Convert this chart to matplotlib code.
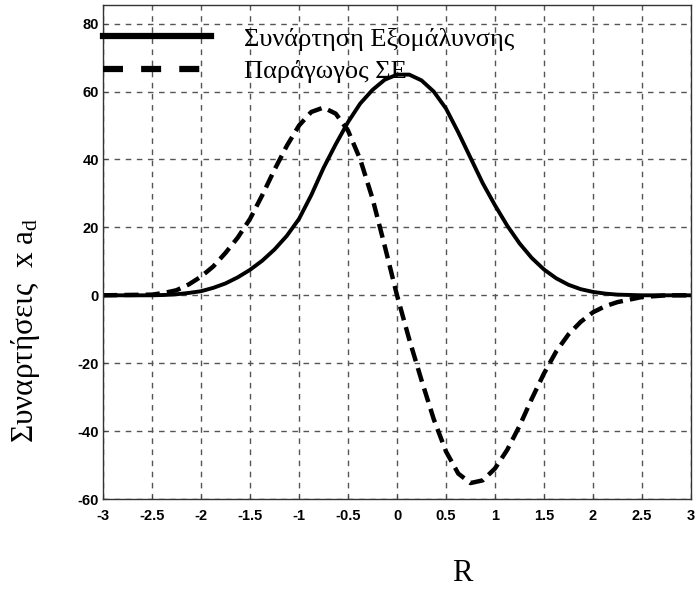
import matplotlib
matplotlib.use("Agg")
import matplotlib.pyplot as plt
from matplotlib.lines import Line2D

plt.rcParams['axes.unicode_minus'] = False
plt.rcParams['mathtext.fontset'] = 'custom'
plt.rcParams['mathtext.rm'] = 'Liberation Serif'
plt.rcParams['mathtext.it'] = 'Liberation Serif'

# smoothing function (solid)
r_smooth = [-3, -2.5, -2.375, -2.25, -2.125, -2, -1.875, -1.75, -1.625, -1.5, -1.375,
            -1.25, -1.125, -1, -0.875, -0.75, -0.625, -0.5, -0.375, -0.25, -0.125,
            0, 0.125, 0.25, 0.375, 0.5, 0.625, 0.75, 0.875, 1, 1.125, 1.25, 1.375,
            1.5, 1.625, 1.75, 1.875, 2, 2.125, 2.25, 2.5, 3]
f_smooth = [0, 0, 0.1, 0.3, 0.7, 1.2, 2.2, 3.5, 5.3, 7.5, 10.2,
            13.5, 17.5, 22.5, 29.5, 37.5, 44.5, 51, 56.5, 60.5, 63.5,
            65, 65, 63.3, 60, 55, 48, 40.5, 33, 26.5, 20.5, 15.3, 11,
            7.6, 5, 3.1, 1.8, 1, 0.5, 0.2, 0, 0]

# derivative (dashed)
r_deriv = [-3, -2.5, -2.375, -2.25, -2.125, -2, -1.875, -1.75, -1.625, -1.5, -1.375,
           -1.25, -1.125, -1, -0.875, -0.75, -0.625, -0.5, -0.375, -0.25, -0.125,
           0, 0.125, 0.25, 0.375, 0.5, 0.625, 0.75, 0.875, 1, 1.125, 1.25, 1.375,
           1.5, 1.625, 1.75, 1.875, 2, 2.125, 2.25, 2.5, 2.75, 3]
f_deriv = [0, 0.2, 0.7, 1.5, 3.2, 5.5, 8.5, 12.5, 17, 22.5, 29.5,
           37, 44, 50, 54, 55.3, 53.5, 48.5, 40, 28.5, 14.5,
           0, -13, -25, -36.5, -46, -52.5, -55.3, -54.5, -51, -45.5, -38.5, -30.5,
           -23, -16.5, -11.5, -7.8, -5, -3.2, -2, -0.5, 0, 0]

labels = ['Συνάρτηση Εξομάλυνσης', 'Παράγωγος ΣΕ']
xticks = [-3, -2.5, -2, -1.5, -1, -0.5, 0, 0.5, 1, 1.5, 2, 2.5, 3]
yticks = [-60, -40, -20, 0, 20, 40, 60, 80]

fig = plt.figure(figsize=(6.97, 5.90), dpi=100)
ax = fig.add_axes([0.1478, 0.1542, 0.8436, 0.8373])

ax.plot(r_smooth, f_smooth, color='black', lw=2.8, solid_capstyle='round')
ax.plot(r_deriv, f_deriv, color='black', lw=3.2, linestyle=(0, (3.2, 1.6)))

ax.set_xlim(-3, 3)
ax.set_ylim(-60, 85.5)
ax.set_xticks(xticks)
ax.set_yticks(yticks)
ax.set_xticklabels([f'{t:g}' for t in xticks])
ax.set_yticklabels([f'{t:g}' for t in yticks])
for lab in ax.get_xticklabels() + ax.get_yticklabels():
    lab.set_fontfamily('Liberation Sans')
    lab.set_fontweight('bold')
    lab.set_fontsize(10.5)
ax.tick_params(direction='in', length=3, width=0.8, color='#444444')
ax.tick_params(axis='x', pad=7)
ax.tick_params(axis='y', pad=3)

ax.grid(True, color='#555555', lw=1.0, linestyle=(0, (4, 4)))
for s in ax.spines.values():
    s.set_color('#333333')
    s.set_linewidth(1.0)

handles = [Line2D([], [], color='black', lw=4.5),
           Line2D([], [], color='black', lw=4.5, linestyle=(0, (3.2, 2.9)))]
ax.legend(handles, labels, loc='upper left', bbox_to_anchor=(0, 0.955),
          frameon=False, borderaxespad=0, borderpad=0,
          prop={'family': 'Liberation Serif', 'size': 19},
          handlelength=4.1, handletextpad=1.25, labelspacing=0.34)

fig.text(0.036, 0.44, 'Συναρτήσεις  x a$_{\\mathrm{d}}$', rotation=90,
         ha='center', va='center', family='Liberation Serif', fontsize=22.5)
fig.text(0.663, 0.016, 'R', ha='center', va='baseline',
         family='Liberation Serif', fontsize=22)

fig.savefig('out.png', dpi=100)
